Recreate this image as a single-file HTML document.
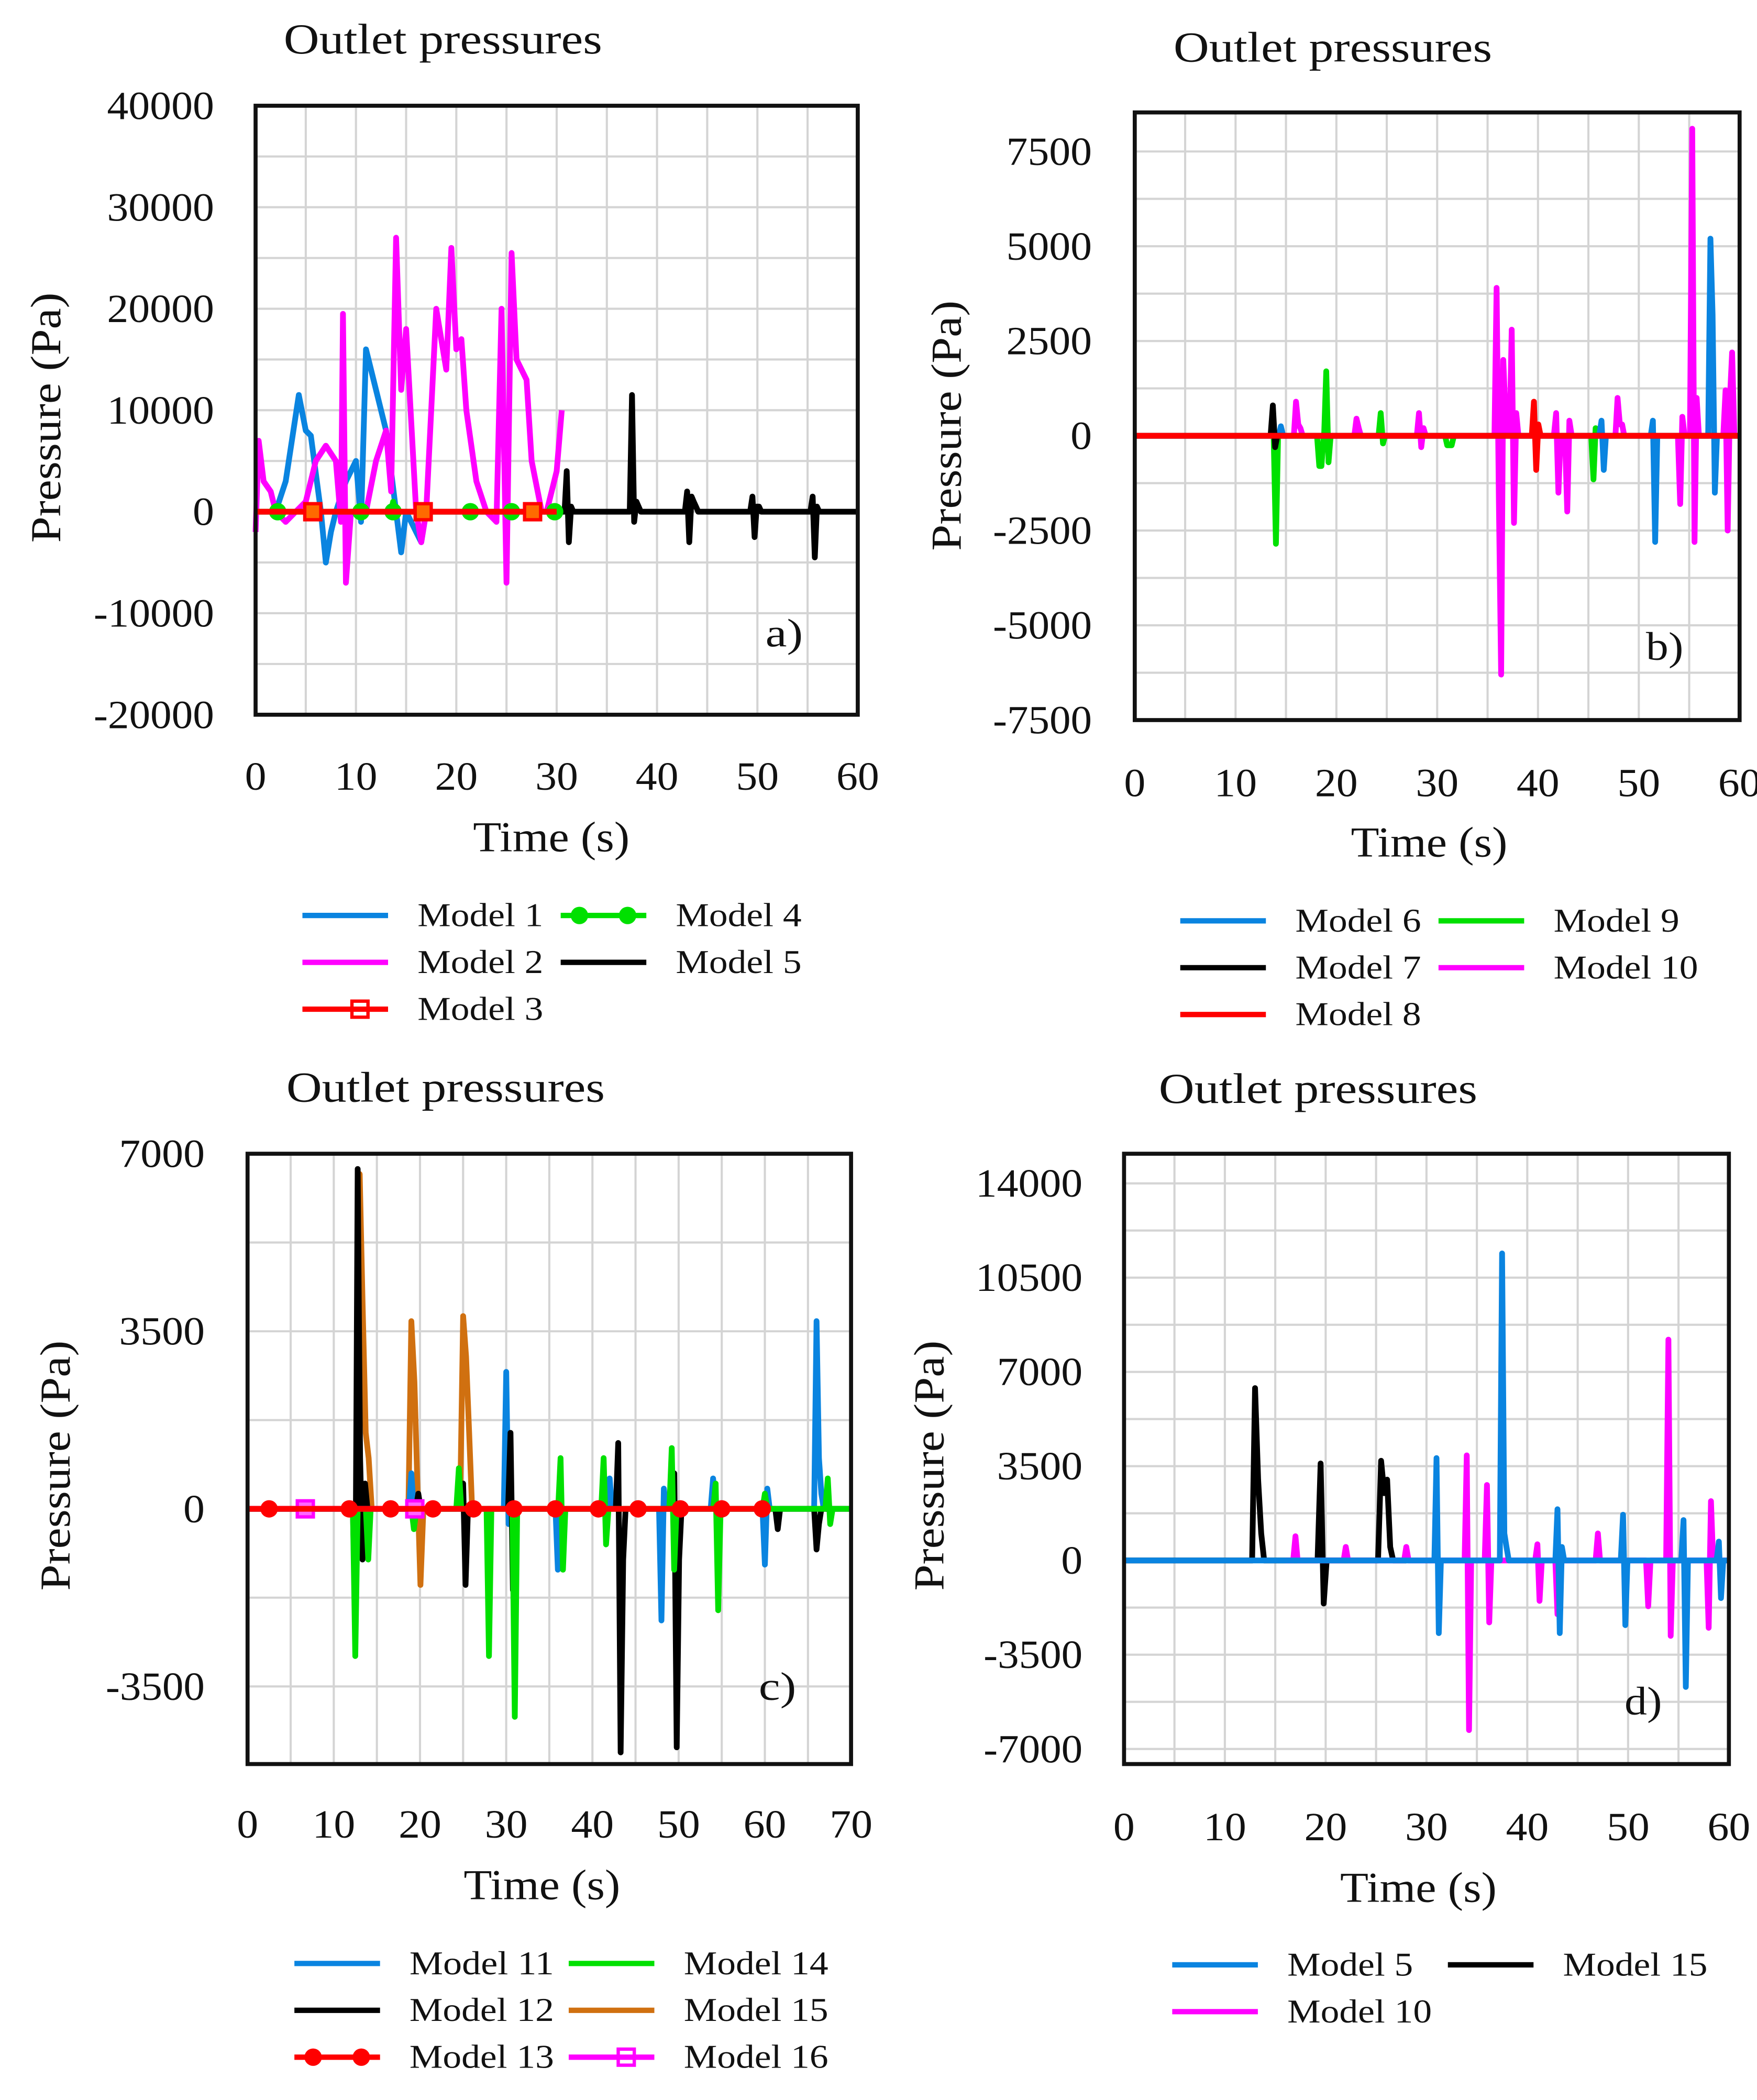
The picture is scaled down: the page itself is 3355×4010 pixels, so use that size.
<!DOCTYPE html>
<html><head><meta charset="utf-8"><style>
html,body{margin:0;padding:0;background:#fff;}
svg{display:block;}
text{font-family:"Liberation Serif",serif;fill:#111;}
</style></head><body>
<svg id="fig" width="3355" height="4010" viewBox="0 0 1313 1569" preserveAspectRatio="none" xmlns="http://www.w3.org/2000/svg"></svg>
<script>
// ---------- Panel a data ----------
const aM1t=[0,2,3,4.3,5,5.5,6.5,7,7.5,8,9,10,10.5,11,12,13,14,14.5,15,16,16.5,17,30];
const aM1p=[0,0,3000,11500,8000,7500,0,-5000,-2000,0,3000,5000,-1000,16000,12000,8000,0,-4000,0,-2000,-3000,0,0];
const aM2t=[0,0.3,0.8,1.5,2,3,4,5,6,7,8,8.5,8.7,9,9.5,11,12,13,13.5,14,14.5,15,16,16.5,17,18,19,19.5,20,20.5,21,22,23,24,24.5,25,25.5,26,27,27.5,28.5,29,30,30.5];
const aM2p=[-2000,7000,3000,2000,0,-1000,0,1000,5000,6500,5000,-1000,19500,-7000,0,0,5000,8000,2000,27000,12000,18000,0,-3000,0,20000,14000,26000,16000,17000,10000,3000,0,-1000,20000,-7000,25500,15000,13000,5000,0,0,4000,10000];
const aM5times=[31,37.5,43,49.5,55.5];
const aM5vals=[[4000,-3000,500],[11500,-1000,1000,500],[2000,-3000,1500,1000,500],[1500,-2500,500,500],[1500,-4500,500]];
const aM3mk=[5.7,16.7,27.6];
const aM4times=[13.7], aM4vals=[[1000]], aM4mk=[2.2,10.5,13.7,21.4,25.5,29.8];
// ---------- Panel b data ----------
const bM6times=[14.5,46.3,51.4,57.1];
const bM6vals=[[250],[400,-900],[400,-2800],[5200,3200,-1500]];
const bM7times=[13.7], bM7vals=[[800,-300]];
const bM8times=[39.6], bM8vals=[[900,-900,300]];
const bM9times=[14,18.3,19,24.4,31,45.5];
const bM9vals=[[-2850],[-800,-800],[1700,-700],[600,-200],[-250,-250,-250],[-1150,200]];
const bM10times=[16,22,28.2,35.9,37.4,41.8,42.9,47.9,54.1,55.3,58.6];
const bM10vals=[[900,300,200],[450,200],[600,-300,200],[3900,-1700,-6300,2000,500],[2800,-2300,600],[600,-1500],[-2000,400],[1000,300,300],[-1800,500],[8100,-2800,1000],[1200,-2500,1000,2200]];
// ---------- Panel c data ----------
const cM11times=[19,30,36,42,48,54,60,66];
const cM11vals=[[700],[2700,-300],[-1200],[600],[-2200,400],[600],[-1100,400],[3700,1000,300]];
const cM12times=[12.5,19.8,25,30.5,43,49.5,61.5,66];
const cM12vals=[[-2300,6700,1000,-1000,500],[300],[500,-1500],[1500,-1600],[1300,-4800,-1000],[700,-4700,-1000],[-400],[-800,-300]];
const cM13mk=[2.5,11.8,16.6,21.5,26.2,30.9,35.7,40.7,45.3,50.2,55,59.7];
const cM14times=[12.5,14,19.3,24.5,28,31,36.3,41.3,49.2,54.3,60,67.3];
const cM14vals=[[-2900],[-1000],[-400],[800],[-2900],[-4100],[1000,-1200],[1000,-700],[1200,-1200],[500,-2000],[300],[600,-300]];
const cM15times=[13,19,25];
const cM15vals=[[6600,4000,1500,1000],[3700,2500,500,-1500],[3800,3000,1500]];
const cM16mk=[6.7,19.4];
// ---------- Panel d data ----------
const dM5times=[31,37.5,43,49.5,55.5,59];
const dM5vals=[[3800,-2700],[11400,1000,500],[1900,-2700,500],[1700,-2400],[1500,-4700],[700,-1400]];
const dM10times=[17,22,28,34,36,41,43,47,52,54,58];
const dM10vals=[[900],[500],[500],[3900,-6300],[2800,-2300],[600,-1500],[-2000],[1000],[-1700],[8200,-2800],[-2500,2200]];
const dM15times=[13,19.5,25.5];
const dM15vals=[[6400,3000,1000],[3600,-1600],[3700,2500,3000,500]];

const xTicksA=[0,10,20,30,40,50,60], yTicksA=[40000,30000,20000,10000,0,-10000,-20000];
const yTicksB=[7500,5000,2500,0,-2500,-5000,-7500];
const xTicksC=[0,10,20,30,40,50,60,70], yTicksC=[7000,3500,0,-3500];
const yTicksD=[14000,10500,7000,3500,0,-3500,-7000];

const NS="http://www.w3.org/2000/svg";
const svg=document.getElementById('fig');
function mk(tag,attrs,parent){const e=document.createElementNS(NS,tag);for(const k in attrs)e.setAttribute(k,attrs[k]);(parent||svg).appendChild(e);return e;}
function txt(s,x,y,size,anchor,parent,len){const a={x:x,y:y,'font-size':size,'text-anchor':anchor||'start'};if(len){a.textLength=len;a.lengthAdjust='spacingAndGlyphs';}const e=mk('text',a,parent);e.textContent=s;return e;}
function tw(s,per){return s.length*per;}

function bursts(times,vals,start,end,dt){
  const T=[start],P=[0];
  times.forEach((t,i)=>{
    T.push(t-dt);P.push(0);
    vals[i].forEach((v,j)=>{T.push(t+j*dt);P.push(v);});
    T.push(t+vals[i].length*dt);P.push(0);
  });
  T.push(end);P.push(0);
  return {t:T,p:P};
}

function panel(cfg){
  const g=mk('g',{});
  
  
  const X=t=>cfg.x0+(t-cfg.t0)/(cfg.t1-cfg.t0)*(cfg.x1-cfg.x0);
  const Y=p=>cfg.y1-(p-cfg.p0)/(cfg.p1-cfg.p0)*(cfg.y1-cfg.y0);
  for(let t=cfg.t0+cfg.gx;t<cfg.t1-1e-6;t+=cfg.gx){const l=mk('line',{x1:X(t),x2:X(t),y1:cfg.y0,y2:cfg.y1,stroke:'#d4d4d4','stroke-width':1.6},g);}
  for(let p=cfg.gy0;p<cfg.p1-1e-6;p+=cfg.gy){if(p<=cfg.p0)continue;const l=mk('line',{x1:cfg.x0,x2:cfg.x1,y1:Y(p),y2:Y(p),stroke:'#d4d4d4','stroke-width':1.6},g);}
  cfg.series.forEach(s=>{
    const pts=s.t.map((t,i)=>X(t).toFixed(1)+','+Y(s.p[i]).toFixed(1)).join(' ');
    const pl=mk('polyline',{points:pts,fill:'none',stroke:s.c,'stroke-width':4.3,'stroke-linejoin':'round'},g);
    
    
    (s.mk||[]).forEach(t=>{
      let m;
      if(s.shape==='sq'){m=mk('rect',{x:X(t)-6,y:Y(0)-6,width:12,height:12,fill:s.fill||'none',stroke:s.c,'stroke-width':2.5},g);}
      else{m=mk('circle',{cx:X(t),cy:Y(0),r:6.5,fill:s.c},g);}
      
      
    });
  });
  const fr=mk('rect',{x:cfg.x0,y:cfg.y0,width:cfg.x1-cfg.x0,height:cfg.y1-cfg.y0,fill:'none',stroke:'#111','stroke-width':3},g);
  
  cfg.xt.forEach(t=>{const s=String(t);const e=txt(s,X(t),cfg.xly,30,'middle',g,tw(s,16));});
  cfg.yt.forEach(p=>{const s=String(p);const e=txt(s,cfg.ylx,Y(p)+10,30,'end',g,s.replace('-','').length*16+(p<0?10:0));});
  let e=txt('Time (s)',cfg.tx,cfg.ty,32,'middle',g,117);
  e=txt('Pressure (Pa)',0,0,32,'middle',g,187);e.setAttribute('transform','translate('+cfg.px+','+cfg.py+') rotate(-90)');
  e=txt('Outlet pressures',cfg.hx,cfg.hy,32,'start',g,238);
  e=txt(cfg.lab,cfg.lx,cfg.ly,30,'start',g,28);
  cfg.legend.forEach(L=>{
    const lg=mk('g',{},g);
    
    
    mk('line',{x1:L.x,x2:L.x+64,y1:L.y,y2:L.y,stroke:L.c,'stroke-width':4},lg);
    if(L.shape==='sq')mk('rect',{x:L.x+37,y:L.y-6,width:12,height:12,fill:'none',stroke:L.c,'stroke-width':2.5},lg);
    if(L.shape==='ci'){mk('circle',{cx:L.x+14,cy:L.y,r:6.5,fill:L.c},lg);mk('circle',{cx:L.x+50,cy:L.y,r:6.5,fill:L.c},lg);}
    txt(L.s,L.x+86,L.y+8,25,'start',lg,L.s.length>7?108:94);
  });
}

const BL='#0a84e0',MG='#ff00ff',RD='#ff0000',GR='#00e000',BK='#000',OR='#d07010';
const DT=0.22;
const aM5=bursts(aM5times,aM5vals,30,60,DT), aM4=bursts(aM4times,aM4vals,0,30,DT);
const bM6=bursts(bM6times,bM6vals,0,60,DT), bM7=bursts(bM7times,bM7vals,0,60,DT), bM8=bursts(bM8times,bM8vals,0,60,DT), bM9=bursts(bM9times,bM9vals,0,60,DT), bM10=bursts(bM10times,bM10vals,0,60,DT);
const cM11=bursts(cM11times,cM11vals,0,70,0.28), cM12=bursts(cM12times,cM12vals,0,70,0.28), cM14=bursts(cM14times,cM14vals,0,70,0.28), cM15=bursts(cM15times,cM15vals,0,70,0.35);
const dM5=bursts(dM5times,dM5vals,0,60,DT), dM10=bursts(dM10times,dM10vals,16,60,DT), dM15=bursts(dM15times,dM15vals,0,28,0.3);

panel({name:'panel-a',x0:191,x1:641,y0:79,y1:534,t0:0,t1:60,p0:-20000,p1:40000,gx:5,gy:5000,gy0:-20000,
 xt:xTicksA,yt:yTicksA,xly:590,ylx:160,tx:412,ty:636,px:45,py:312,hx:212,hy:40,lab:'a)',lx:572,ly:483,
 series:[{n:'model-1-line',t:aM1t,p:aM1p,c:BL},{n:'model-2-line',t:aM2t,p:aM2p,c:MG},{n:'model-5-line',t:aM5.t,p:aM5.p,c:BK},
  {n:'model-4-line',t:aM4.t,p:aM4.p,c:GR,mk:aM4mk},{n:'model-3-line',t:[0,30],p:[0,0],c:RD,mk:aM3mk,shape:'sq',fill:'#ff6a00'}],
 legend:[{x:226,y:684,c:BL,s:'Model 1'},{x:419,y:684,c:GR,s:'Model 4',shape:'ci'},{x:226,y:719,c:MG,s:'Model 2'},{x:419,y:719,c:BK,s:'Model 5'},{x:226,y:754,c:RD,s:'Model 3',shape:'sq'}]});

panel({name:'panel-b',x0:848,x1:1300,y0:84,y1:538,t0:0,t1:60,p0:-7500,p1:8530,gx:5,gy:1250,gy0:-7500,
 xt:xTicksA,yt:yTicksB,xly:595,ylx:816,tx:1068,ty:640,px:718,py:318,hx:877,hy:46,lab:'b)',lx:1230,ly:493,
 series:[{n:'model-9-line',t:bM9.t,p:bM9.p,c:GR},{n:'model-10-line',t:bM10.t,p:bM10.p,c:MG},{n:'model-6-line',t:bM6.t,p:bM6.p,c:BL},{n:'model-7-line',t:bM7.t,p:bM7.p,c:BK},{n:'model-8-line',t:bM8.t,p:bM8.p,c:RD}],
 legend:[{x:882,y:688,c:BL,s:'Model 6'},{x:1075,y:688,c:GR,s:'Model 9'},{x:882,y:723,c:BK,s:'Model 7'},{x:1075,y:723,c:MG,s:'Model 10'},{x:882,y:758,c:RD,s:'Model 8'}]});

panel({name:'panel-c',x0:185,x1:636,y0:862,y1:1318,t0:0,t1:70,p0:-5030,p1:7000,gx:5,gy:1750,gy0:-5250,
 xt:xTicksC,yt:yTicksC,xly:1373,ylx:153,tx:405,ty:1419,px:52,py:1095,hx:214,hy:823,lab:'c)',lx:567,ly:1270,
 series:[{n:'model-15-line',t:cM15.t,p:cM15.p,c:OR},{n:'model-11-line',t:cM11.t,p:cM11.p,c:BL},{n:'model-12-line',t:cM12.t,p:cM12.p,c:BK},{n:'model-14-line',t:cM14.t,p:cM14.p,c:GR},
  {n:'model-16-line',t:[0,22],p:[0,0],c:MG,mk:cM16mk,shape:'sq',fill:'#ff66ff'},{n:'model-13-line',t:[0,60],p:[0,0],c:RD,mk:cM13mk}],
 legend:[{x:220,y:1467,c:BL,s:'Model 11'},{x:425,y:1467,c:GR,s:'Model 14'},{x:220,y:1502,c:BK,s:'Model 12'},{x:425,y:1502,c:OR,s:'Model 15'},{x:220,y:1537,c:RD,s:'Model 13',shape:'ci'},{x:425,y:1537,c:MG,s:'Model 16',shape:'sq'}]});

panel({name:'panel-d',x0:840,x1:1292,y0:862,y1:1318,t0:0,t1:60,p0:-7560,p1:15100,gx:5,gy:1750,gy0:-8750,
 xt:xTicksA,yt:yTicksD,xly:1375,ylx:809,tx:1060,ty:1421,px:705,py:1095,hx:866,hy:824,lab:'d)',lx:1214,ly:1281,
 series:[{n:'model-15-line',t:dM15.t,p:dM15.p,c:BK},{n:'model-10-line',t:dM10.t,p:dM10.p,c:MG},{n:'model-5-line',t:dM5.t,p:dM5.p,c:BL}],
 legend:[{x:876,y:1468,c:BL,s:'Model 5'},{x:1082,y:1468,c:BK,s:'Model 15'},{x:876,y:1503,c:MG,s:'Model 10'}]});
</script>
</body></html>
